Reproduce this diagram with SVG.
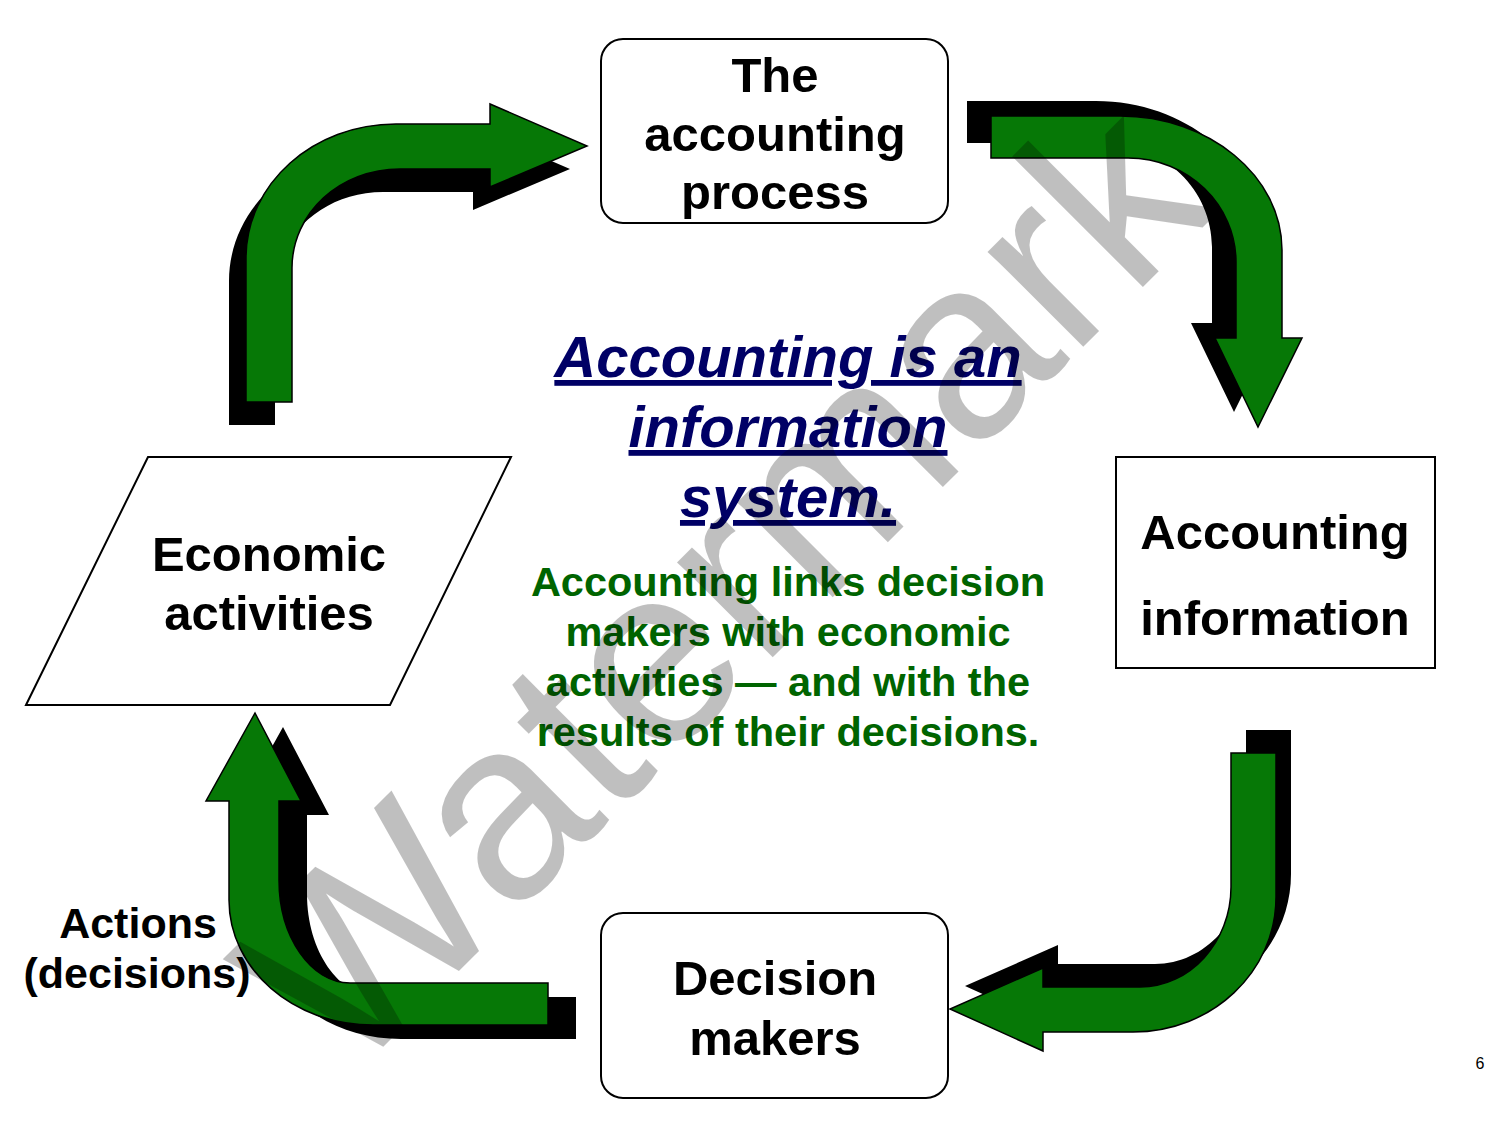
<svg xmlns="http://www.w3.org/2000/svg" width="1500" height="1125" viewBox="0 0 1500 1125">
<style>
.lbl{font-family:"Liberation Sans",Arial,sans-serif;font-weight:bold;font-size:49px;fill:#000;text-anchor:middle}
.box{fill:#fff;stroke:#000;stroke-width:2}
.arr{fill:#067806;stroke:#000;stroke-width:1.5;stroke-linejoin:miter}
.shd{fill:#000}
.title{font-family:"Liberation Sans",Arial,sans-serif;font-weight:bold;font-style:italic;font-size:58px;fill:#000066;text-anchor:middle;text-decoration:underline}
.body{font-family:"Liberation Sans",Arial,sans-serif;font-weight:bold;font-size:41.5px;fill:#006400;text-anchor:middle}
</style>
<defs>
<path id="a1" d="M246,402 L246,258 C246,184 313,124 396,124 L490,124 L490,104 L587,146 L490,187 L490,169 L400,169 C340,169 292,213 292,268 L292,402 Z"/>
<path id="a2" d="M991,116 L1120,116 C1209,116 1282,176 1282,250 L1282,338 L1302,338 L1258,427 L1215,338 L1236,338 L1236,262 C1236,205 1188,158 1128,158 L991,158 Z"/>
<path id="a3" d="M1231,753 L1276,753 L1276,897 C1276,972 1212,1032 1133,1032 L1043,1032 L1043,1051 L950,1009 L1043,968 L1043,987 L1140,987 C1190,987 1231,942 1231,887 Z"/>
<path id="a4" d="M548,983 L350,983 C311,983 279,937 279,880 L279,801 L301,801 L255,713 L206,801 L229,801 L229,900 C229,969 293,1025 373,1025 L548,1025 Z"/>
</defs>
<rect width="1500" height="1125" fill="#fff"/>
<g id="connectors">
<use href="#a1" class="shd" transform="translate(-17,23)"/>
<use href="#a1" class="arr"/>
<use href="#a2" class="shd" transform="translate(-24,-15)"/>
<use href="#a2" class="arr"/>
<use href="#a3" class="shd" transform="translate(15,-23)"/>
<use href="#a3" class="arr"/>
<use href="#a4" class="shd" transform="translate(28,14)"/>
<use href="#a4" class="arr"/>
</g>
<g id="node-process">
<rect class="box" x="601" y="39" width="347" height="184" rx="22"/>
<text class="lbl" x="775" y="92">The</text>
<text class="lbl" x="775" y="151">accounting</text>
<text class="lbl" x="775" y="209">process</text>
</g>
<g id="node-info">
<rect class="box" x="1116" y="457" width="319" height="211"/>
<text class="lbl" x="1275" y="549">Accounting</text>
<text class="lbl" x="1275" y="635">information</text>
</g>
<g id="node-decision">
<rect class="box" x="601" y="913" width="347" height="185" rx="22"/>
<text class="lbl" x="775" y="995">Decision</text>
<text class="lbl" x="775" y="1055">makers</text>
</g>
<g id="node-economic">
<polygon class="box" points="26,705 148,457 511,457 390,705"/>
<text class="lbl" x="269" y="571">Economic</text>
<text class="lbl" x="269" y="630">activities</text>
</g>
<g id="label-actions">
<text class="lbl" x="138" y="938" style="font-size:43px">Actions</text>
<text class="lbl" x="137" y="988" style="font-size:43px">(decisions)</text>
</g>
<g id="center-text">
<text class="title" x="788" y="377">Accounting is an</text>
<text class="title" x="788" y="447">information</text>
<text class="title" x="788" y="517">system.</text>
<text class="body" x="788" y="596">Accounting links decision</text>
<text class="body" x="788" y="646">makers with economic</text>
<text class="body" x="788" y="696">activities — and with the</text>
<text class="body" x="788" y="746">results of their decisions.</text>
</g>
<text x="1480" y="1069" style="font-family:'Liberation Sans',Arial,sans-serif;font-size:16px;fill:#000;text-anchor:middle">6</text>
<text x="0" y="0" transform="translate(346,1084) rotate(-45)" style="font-family:'Liberation Sans',Arial,sans-serif;font-size:255px;fill:#000;fill-opacity:0.25">Watermark</text>
</svg>
